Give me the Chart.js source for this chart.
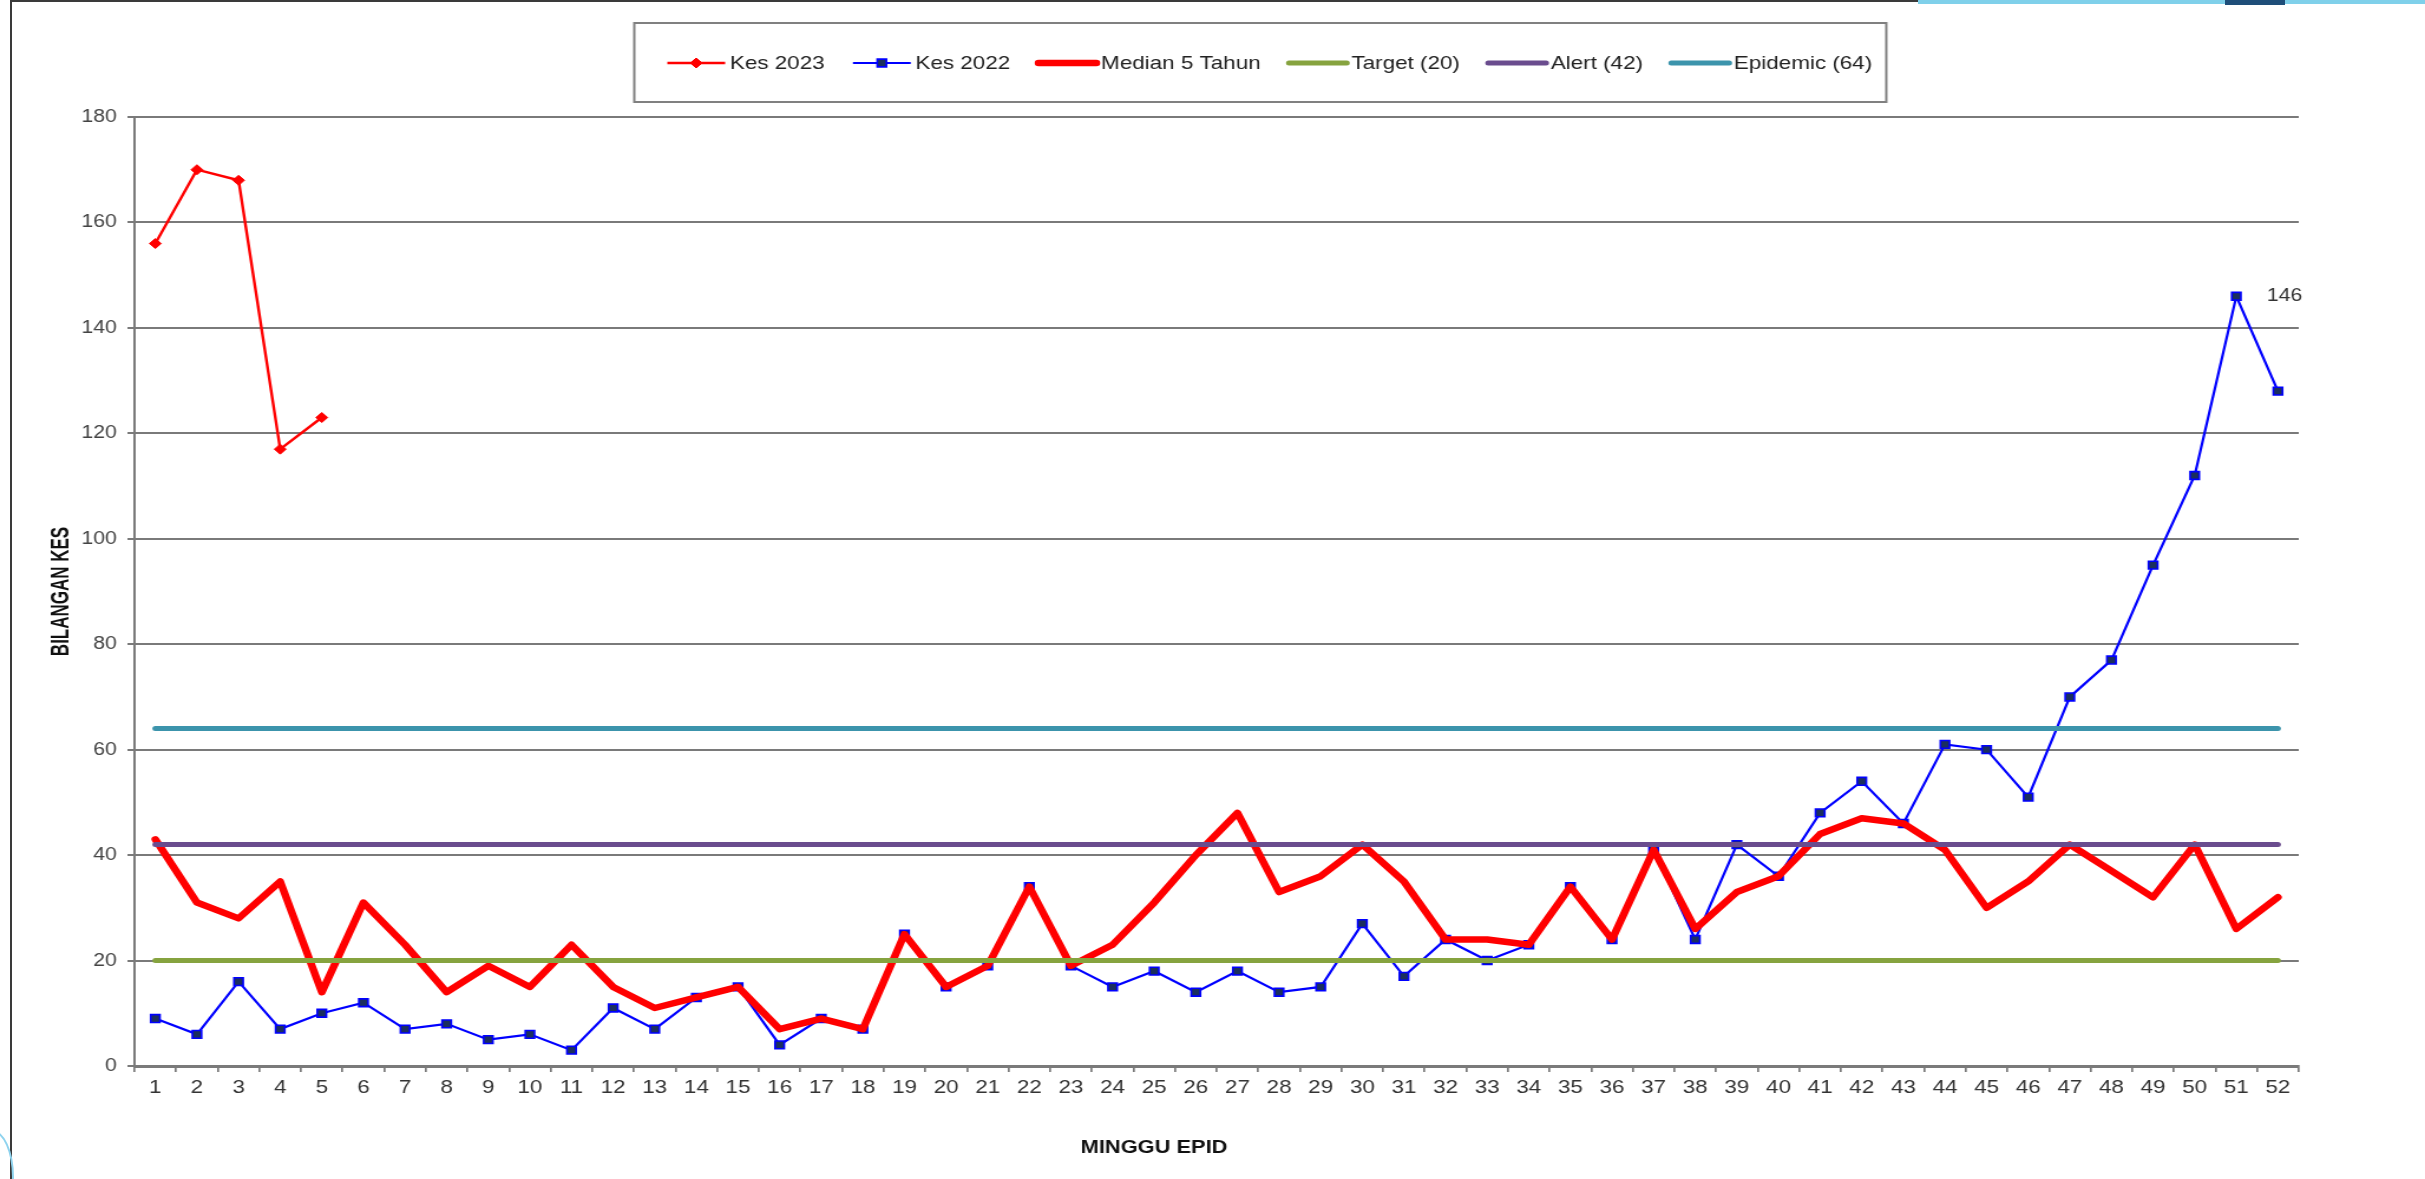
<!DOCTYPE html>
<html>
<head>
<meta charset="utf-8">
<script src="https://cdn.jsdelivr.net/npm/chart.js@4.4.1/dist/chart.umd.min.js"></script>
<style>
  body { margin: 0; background: #fff; }
  #wrap { position: relative; width: 2425px; height: 1179px; overflow: hidden; background: #fff; }
  .frameL { position: absolute; left: 10px; top: 0; width: 2px; height: 1179px; background: #3a3a3a; }
  .frameT { position: absolute; left: 10px; top: 0; width: 1908px; height: 2px; background: #3a3a3a; }
  .deco1 { position: absolute; left: 1918px; top: 0; width: 507px; height: 4px; background: #7fd0ea; }
  .deco2 { position: absolute; left: 2225px; top: 0; width: 60px; height: 5px; background: #1f4e79; }
  .deco3 { position: absolute; left: -30px; top: 1130px; width: 40px; height: 90px; border: 2px solid #8fd3ee; border-radius: 50%; }
</style>
</head>
<body>
<div id="wrap">
  <!-- the original is a little stretched sideways, so the canvas is drawn narrower and scaled up -->
  <canvas id="c" width="2055" height="1179" style="display:block;width:2425px;height:1179px"></canvas>
  <div class="frameL"></div>
  <div class="frameT"></div>
  <div class="deco1"></div>
  <div class="deco2"></div>
  <div class="deco3"></div>
</div>
<script>
// minggu epid
const weeks = ['1','2','3','4','5','6','7','8','9','10','11','12','13','14','15','16','17','18','19','20',
  '21','22','23','24','25','26','27','28','29','30','31','32','33','34','35','36','37','38','39','40',
  '41','42','43','44','45','46','47','48','49','50','51','52'];

// kes mingguan
const kes2023 = [156, 170, 168, 117, 123];
const kes2022 = [9, 6, 16, 7, 10, 12, 7, 8, 5, 6, 3, 11, 7, 13, 15, 4, 9, 7, 25, 15,
  19, 34, 19, 15, 18, 14, 18, 14, 15, 27, 17, 24, 20, 23, 34, 24, 41, 24, 42, 36,
  48, 54, 46, 61, 60, 51, 70, 77, 95, 112, 146, 128];
const median5 = [43, 31, 28, 35, 14, 31, 23, 14, 19, 15, 23, 15, 11, 13, 15, 7, 9, 7, 25, 15,
  19, 34, 19, 23, 31, 40, 48, 33, 36, 42, 35, 24, 24, 23, 34, 24, 41, 26, 33, 36,
  44, 47, 46, 41, 30, 35, 42, 37, 32, 42, 26, 32];

// garis ambang
const target = [20, 20, 20, 20, 20, 20, 20, 20, 20, 20, 20, 20, 20, 20, 20, 20, 20, 20, 20, 20,
  20, 20, 20, 20, 20, 20, 20, 20, 20, 20, 20, 20, 20, 20, 20, 20, 20, 20, 20, 20,
  20, 20, 20, 20, 20, 20, 20, 20, 20, 20, 20, 20];
const alert42 = [42, 42, 42, 42, 42, 42, 42, 42, 42, 42, 42, 42, 42, 42, 42, 42, 42, 42, 42, 42,
  42, 42, 42, 42, 42, 42, 42, 42, 42, 42, 42, 42, 42, 42, 42, 42, 42, 42, 42, 42,
  42, 42, 42, 42, 42, 42, 42, 42, 42, 42, 42, 42];
const epidemic = [64, 64, 64, 64, 64, 64, 64, 64, 64, 64, 64, 64, 64, 64, 64, 64, 64, 64, 64, 64,
  64, 64, 64, 64, 64, 64, 64, 64, 64, 64, 64, 64, 64, 64, 64, 64, 64, 64, 64, 64,
  64, 64, 64, 64, 64, 64, 64, 64, 64, 64, 64, 64];

const yTicks = [0, 20, 40, 60, 80, 100, 120, 140, 160, 180];
const yTitle = 'BILANGAN KES';
const xTitle = 'MINGGU EPID';

const FONT = '"Liberation Sans", Arial, Helvetica, sans-serif';
const GRID = '#7a7a7a';

// kotak legend sendiri (garis + penanda seperti Excel)
const legendBox = {
  id: 'legendBox',
  afterDraw(chart) {
    const ctx = chart.ctx;
    ctx.save();
    ctx.font = '19px ' + FONT;
    const sym = 49, gap = 4, itemGap = 24, y = 63;
    const items = chart.data.datasets.map(ds => ({ ds, w: ctx.measureText(ds.label).width }));
    const total = items.reduce((s, it) => s + sym + gap + it.w, 0) + itemGap * (items.length - 1);
    let x = 1076 - total / 2;

    ctx.strokeStyle = '#808080';
    ctx.lineWidth = 2;
    ctx.strokeRect(x - 28, 23, total + 40, 79);

    items.forEach(({ ds, w }) => {
      ctx.beginPath();
      ctx.strokeStyle = ds.borderColor;
      ctx.lineWidth = ds.borderWidth;
      ctx.lineCap = ds.borderWidth > 3 ? 'round' : 'butt';
      ctx.moveTo(x, y);
      ctx.lineTo(x + sym, y);
      ctx.stroke();
      if (ds.pointRadius > 0) {
        const cx = x + sym / 2, r = ds.pointRadius;
        ctx.beginPath();
        if (ds.pointStyle === 'rectRot') {
          ctx.moveTo(cx, y - r); ctx.lineTo(cx + r, y); ctx.lineTo(cx, y + r); ctx.lineTo(cx - r, y);
        } else {
          const s = r * Math.SQRT1_2;
          ctx.rect(cx - s, y - s, 2 * s, 2 * s);
        }
        ctx.closePath();
        ctx.fillStyle = ds.pointBackgroundColor;
        ctx.fill();
        ctx.lineWidth = ds.pointBorderWidth;
        ctx.strokeStyle = ds.pointBorderColor;
        ctx.stroke();
      }
      ctx.fillStyle = '#222';
      ctx.textAlign = 'left';
      ctx.textBaseline = 'middle';
      ctx.fillText(ds.label, x + sym + gap, y + 1);
      x += sym + gap + w + itemGap;
    });
    ctx.restore();
  }
};

// judul paksi, Y dengan huruf sempit, X sedikit ke kiri seperti asal
const axisTitles = {
  id: 'axisTitles',
  afterDraw(chart) {
    const ctx = chart.ctx;
    const area = chart.chartArea;
    ctx.save();
    ctx.fillStyle = '#111';
    ctx.textAlign = 'center';
    ctx.textBaseline = 'middle';

    ctx.save();
    ctx.translate(52, (area.top + area.bottom) / 2);
    ctx.rotate(-Math.PI / 2);
    ctx.scale(0.79, 1);
    ctx.font = 'bold 21.5px ' + FONT;
    ctx.fillText(yTitle, 0, 0);
    ctx.restore();

    ctx.font = 'bold 18.5px ' + FONT;
    ctx.fillText(xTitle, (area.left + area.right) / 2 - 53, 1148);
    ctx.restore();
  }
};

// label nilai puncak minggu 51
const peakLabel = {
  id: 'peakLabel',
  afterDatasetsDraw(chart) {
    const meta = chart.getDatasetMeta(1);
    const i = 50;
    const pt = meta.data[i];
    if (!pt) return;
    const ctx = chart.ctx;
    ctx.save();
    ctx.font = '18px ' + FONT;
    ctx.fillStyle = '#333';
    ctx.textAlign = 'left';
    ctx.textBaseline = 'middle';
    ctx.fillText(String(kes2022[i]), pt.x + 26, pt.y);
    ctx.restore();
  }
};

const whiteBg = {
  id: 'whiteBg',
  beforeDraw(chart) {
    const ctx = chart.ctx;
    ctx.save();
    ctx.fillStyle = '#fff';
    ctx.fillRect(0, 0, chart.width, chart.height);
    ctx.restore();
  }
};

new Chart(document.getElementById('c'), {
  type: 'line',
  data: {
    labels: weeks,
    datasets: [
      {
        label: 'Kes 2023', data: kes2023, order: 6,
        borderColor: '#FF0000', borderWidth: 2.4,
        pointStyle: 'rectRot', pointRadius: 5, pointBackgroundColor: '#FF0000',
        pointBorderColor: '#FF0000', pointBorderWidth: 1
      },
      {
        label: 'Kes 2022', data: kes2022, order: 5,
        borderColor: '#0000FF', borderWidth: 2.2,
        pointStyle: 'rect', pointRadius: 5.5, pointBackgroundColor: '#1B2F5E',
        pointBorderColor: '#0000FF', pointBorderWidth: 1.6
      },
      {
        label: 'Median 5 Tahun', data: median5, order: 4,
        borderColor: '#FF0000', borderWidth: 6.5, pointRadius: 0,
        borderJoinStyle: 'round', borderCapStyle: 'round'
      },
      {
        label: 'Target (20)', data: target, order: 3,
        borderColor: '#86A33F', borderWidth: 5, pointRadius: 0, borderCapStyle: 'round'
      },
      {
        label: 'Alert (42)', data: alert42, order: 2,
        borderColor: '#6A4C8E', borderWidth: 5, pointRadius: 0, borderCapStyle: 'round'
      },
      {
        label: 'Epidemic (64)', data: epidemic, order: 1,
        borderColor: '#3C94AC', borderWidth: 5, pointRadius: 0, borderCapStyle: 'round'
      }
    ]
  },
  options: {
    responsive: false,
    animation: false,
    devicePixelRatio: 1,
    layout: { padding: { top: 117, right: 107, bottom: 0, left: 0 } },
    plugins: {
      legend: { display: false },
      tooltip: { enabled: false }
    },
    elements: { line: { tension: 0 } },
    scales: {
      x: {
        offset: true,
        afterFit(scale) { scale.height = 113; },
        grid: {
          offset: true, drawOnChartArea: false, drawTicks: true,
          tickLength: 6, color: GRID, lineWidth: 1.7
        },
        border: { display: true, color: GRID, width: 3 },
        ticks: {
          autoSkip: false, maxRotation: 0, padding: 4,
          color: '#333', font: { family: FONT, size: 19 }
        },
        title: { display: false }
      },
      y: {
        min: 0, max: 180,
        afterFit(scale) { scale.width = 114; },
        afterBuildTicks(scale) { scale.ticks = yTicks.map(v => ({ value: v })); },
        grid: {
          color: GRID, lineWidth: 2, drawTicks: true, tickLength: 6
        },
        border: { display: true, color: GRID, width: 2 },
        ticks: {
          padding: 9, color: '#444',
          font: { family: FONT, size: 18 }
        },
        title: { display: false }
      }
    }
  },
  plugins: [whiteBg, legendBox, axisTitles, peakLabel]
});
</script>
</body>
</html>
